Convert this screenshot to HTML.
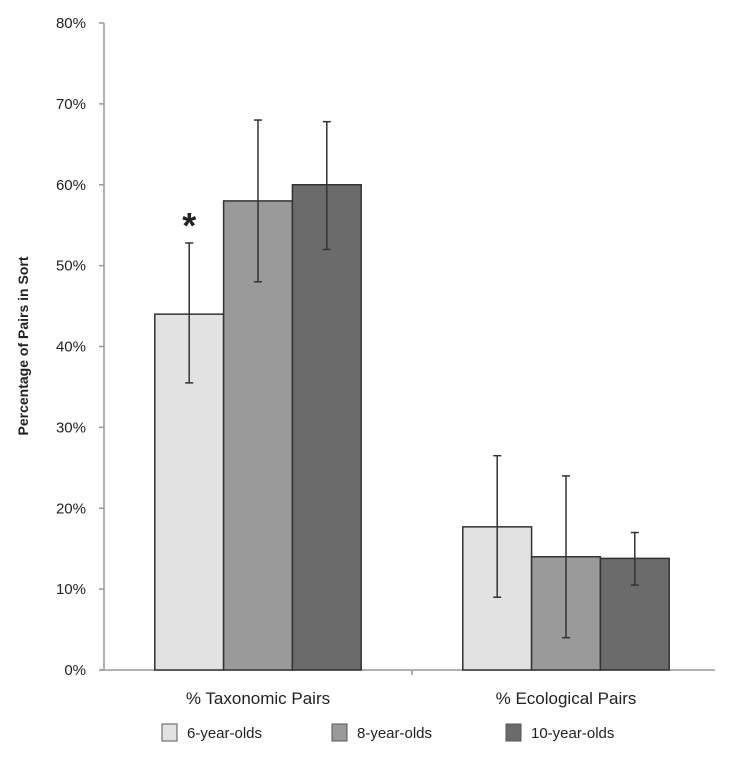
<!DOCTYPE html>
<html><head><meta charset="utf-8"><style>
body{margin:0;background:#fff;}
svg text{font-family:"Liberation Sans",sans-serif;fill:#222;}
</style></head><body>
<svg id="chart" width="736" height="758" xmlns="http://www.w3.org/2000/svg"></svg>
<script>
const categories = ["% Taxonomic Pairs", "% Ecological Pairs"];
const seriesNames = ["6-year-olds", "8-year-olds", "10-year-olds"];
const values6 = [44, 17.7];
const values8 = [58, 14];
const values10 = [60, 13.8];
const errLow6 = [35.5, 9];
const errHigh6 = [52.8, 26.5];
const errLow8 = [48, 4];
const errHigh8 = [68, 24];
const errLow10 = [52, 10.5];
const errHigh10 = [67.8, 17];
const yTicks = [0, 10, 20, 30, 40, 50, 60, 70, 80];

const svg = document.getElementById('chart');
const NS = 'http://www.w3.org/2000/svg';
function mk(tag, attrs, parent){const e=document.createElementNS(NS,tag);for(const k in attrs)e.setAttribute(k,attrs[k]);(parent||svg).appendChild(e);return e;}
const y0=670, y80=23;
function yScale(v){return y0-(y0-y80)*v/80;}
const axisX=104, plotRight=715, groupW=308;
const barW=68.8;
function barX(ci,si){return axisX+groupW*ci+groupW/2-barW*1.5+barW*si;}
const colors=["#e2e2e2","#9a9a9a","#6b6b6b"];
const vals=[values6,values8,values10], lows=[errLow6,errLow8,errLow10], highs=[errHigh6,errHigh8,errHigh10];

let ax=mk('line',{x1:axisX,y1:y80,x2:axisX,y2:y0,stroke:'#999','stroke-width':1.5});


yTicks.forEach(t=>{
  const tk=mk('line',{x1:axisX-5,y1:yScale(t),x2:axisX,y2:yScale(t),stroke:'#999','stroke-width':1.5});
  
  
  const tl=mk('text',{x:86,y:yScale(t)+5,'text-anchor':'end','font-size':15});
  tl.textContent=t+'%';
  
  
});
let yt=mk('text',{x:28,y:346,'text-anchor':'middle','font-size':14,'font-weight':'bold',transform:'rotate(-90 28 346)'});
yt.textContent='Percentage of Pairs in Sort';



let xa=mk('line',{x1:axisX-4,y1:y0,x2:plotRight,y2:y0,stroke:'#999','stroke-width':1.5});


for(let i=1;i<categories.length;i++){
  const tk=mk('line',{x1:axisX+groupW*i,y1:y0,x2:axisX+groupW*i,y2:y0+5,stroke:'#999','stroke-width':1.5});
  
  
}
categories.forEach((c,ci)=>{
  const t=mk('text',{x:axisX+groupW*ci+groupW/2,y:704,'text-anchor':'middle','font-size':17});
  t.textContent=c;
  
  
});

categories.forEach((c,ci)=>{
  for(let si=0;si<3;si++){
    const x=barX(ci,si), v=vals[si][ci];
    const r=mk('rect',{x:x,y:yScale(v),width:barW,height:y0-yScale(v),fill:colors[si],stroke:'#333','stroke-width':1.5});
    
    
    const cx=x+barW/2, lo=yScale(lows[si][ci]), hi=yScale(highs[si][ci]);
    const g=mk('g',{stroke:'#333','stroke-width':1.5});
    
    
    mk('line',{x1:cx,y1:lo,x2:cx,y2:hi},g);
    mk('line',{x1:cx-4,y1:lo,x2:cx+4,y2:lo},g);
    mk('line',{x1:cx-4,y1:hi,x2:cx+4,y2:hi},g);
  }
});
let st=mk('text',{x:barX(0,0)+barW/2,y:yScale(highs[0][0])-5,'text-anchor':'middle','font-size':36,'font-weight':'bold'});
st.textContent='*';



const legX=[162,332,506];
seriesNames.forEach((n,si)=>{
  const r=mk('rect',{x:legX[si],y:724,width:15,height:17,fill:colors[si],stroke:'#555','stroke-width':1});
  
  
  const t=mk('text',{x:legX[si]+25,y:738,'font-size':15});
  t.textContent=n;
  
  
});
</script>
</body></html>
